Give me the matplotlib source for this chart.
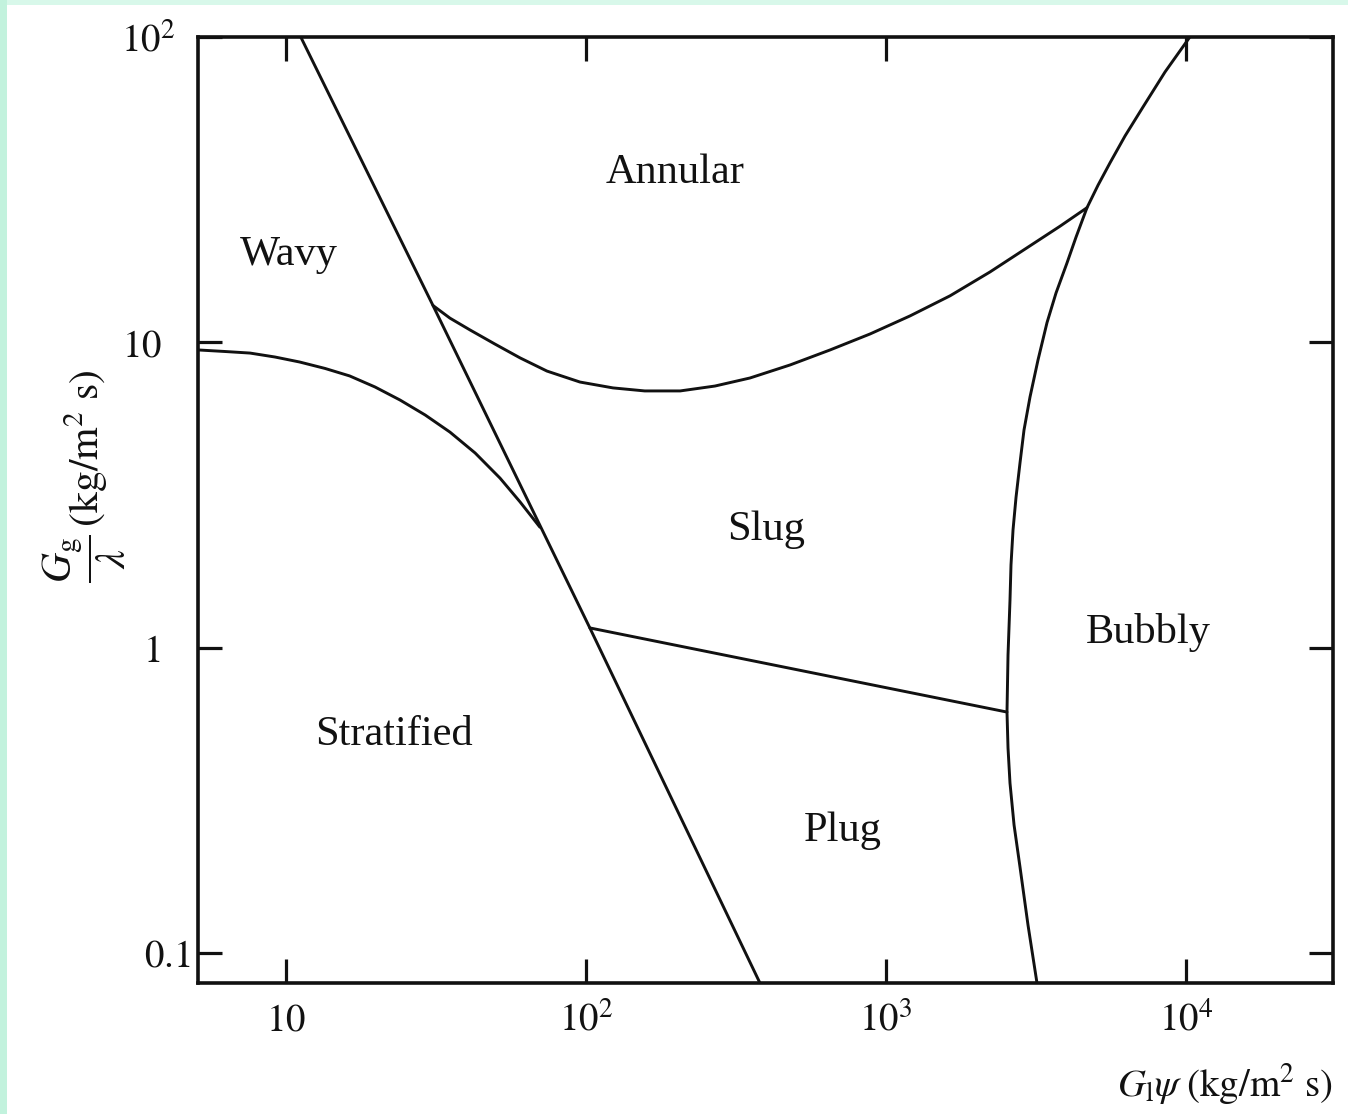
import matplotlib
matplotlib.use('Agg')
import matplotlib.pyplot as plt
from matplotlib.patches import Rectangle
from matplotlib.ticker import NullLocator

# ---------------- data ----------------
# Wavy/Annular | Stratified/Slug/Plug steep boundary
steep_x = [11.2, 30.9, 103, 380]
steep_y = [100, 13.2, 1.16, 0.0797]

# Stratified / Wavy boundary
strat_x = [5.09, 6.26, 7.59, 9.19, 11.1, 13.5, 16.3, 19.8, 24.0, 29.1, 35.2, 42.7, 51.7, 60.3, 70.2]
strat_y = [9.44, 9.33, 9.22, 8.95, 8.62, 8.21, 7.76, 7.14, 6.47, 5.78, 5.08, 4.34, 3.59, 3.00, 2.48]

# Annular / Slug boundary
annular_x = [30.9, 35.2, 41.1, 49.7, 60.3, 74.1, 95.5, 123, 157, 206, 269, 352, 479, 651,
             885, 1202, 1635, 2222, 3020, 3802, 4677]
annular_y = [13.2, 12.0, 10.97, 9.87, 8.89, 8.05, 7.41, 7.09, 6.93, 6.93, 7.19, 7.64, 8.43, 9.44,
             10.65, 12.2, 14.2, 17.0, 20.7, 24.0, 27.6]

# Slug / Plug boundary
plug_x = [103, 2531]
plug_y = [1.16, 0.615]

# Bubbly boundary
bubbly_x = [3186, 2974, 2797, 2672, 2590, 2551, 2531, 2551, 2590, 2610, 2651, 2713, 2797, 2884,
            3020, 3211, 3441, 3687, 4012, 4299, 4677, 5090, 5580, 6262, 7190, 8511, 10300]
bubbly_y = [0.0797, 0.1234, 0.191, 0.2624, 0.36, 0.469, 0.615, 0.946, 1.43, 1.865, 2.43, 3.11,
            4.03, 5.16, 6.62, 8.75, 11.6, 14.5, 18.2, 22.1, 27.6, 32.7, 38.7, 47.4, 59.0, 76.8, 100]

# Region labels
region_names = ['Annular', 'Wavy', 'Slug', 'Bubbly', 'Stratified', 'Plug']
region_x = [198, 10.2, 398, 7470, 22.9, 719]
region_y = [35.9, 19.4, 2.43, 1.12, 0.518, 0.251]

# Ticks
xticks = [10, 100, 1000, 10000]
xticklabels = [r'$10$', r'$10^2$', r'$10^3$', r'$10^4$']
yticks = [100, 10, 1, 0.1]
yticklabels = [r'$10^2$', r'$10$', r'$1$', r'$0.1$']
ytick_pads = [16.5, 26, 27, 5.5]

xlim = (5.09, 30900)
ylim = (0.0797, 100)

# ---------------- figure ----------------
plt.rcParams['font.family'] = ['Liberation Serif', 'DejaVu Serif']
plt.rcParams['mathtext.fontset'] = 'stix'

W, H = 1348, 1114
fig = plt.figure(figsize=(W / 100, H / 100), dpi=100)
fig.patch.set_facecolor('white')
fig.patches.append(Rectangle((0, 1 - 5 / H), 1, 5 / H, transform=fig.transFigure,
                             facecolor='#d8f8ea', edgecolor='none', zorder=-5))
fig.patches.append(Rectangle((0, 0), 7 / W, 1, transform=fig.transFigure,
                             facecolor='#c2f2dd', edgecolor='none', zorder=-5))

ax = fig.add_axes([198 / W, 1 - 983 / H, (1333 - 198) / W, (983 - 37) / H])
ax.set_xscale('log')
ax.set_yscale('log')
ax.set_xlim(*xlim)
ax.set_ylim(*ylim)

lw = 2.1
for xs, ys in [(steep_x, steep_y), (strat_x, strat_y), (annular_x, annular_y),
               (plug_x, plug_y), (bubbly_x, bubbly_y)]:
    ax.plot(xs, ys, color='#111111', lw=lw, solid_capstyle='round',
            solid_joinstyle='round', clip_on=True)

for name, x, y in zip(region_names, region_x, region_y):
    ax.text(x, y, name, ha='center', va='center', fontsize=30.5, color='#111111')

ax.set_xticks(xticks)
ax.set_xticklabels(xticklabels)
ax.set_yticks(yticks)
ax.set_yticklabels(yticklabels)
ax.xaxis.set_minor_locator(NullLocator())
ax.yaxis.set_minor_locator(NullLocator())
ax.tick_params(which='major', direction='in', length=17, width=2.3,
               top=True, right=True, labelsize=28, colors='#111111')
ax.tick_params(axis='x', pad=14)
for t, p in zip(ax.yaxis.get_major_ticks(), ytick_pads):
    t.set_pad(p)

for s in ax.spines.values():
    s.set_linewidth(2.6)
    s.set_color('#111111')

ax.set_ylabel(r'$\dfrac{G_\mathrm{g}}{\lambda}\,(\mathrm{kg/m^2\ s})$', fontsize=30,
              color='#111111')
ax.yaxis.set_label_coords(-0.062, 0.536)
ax.set_xlabel(r'$G_\mathrm{l}\psi\ (\mathrm{kg/m^2\ s})$', fontsize=28, loc='right',
              labelpad=16, color='#111111')

fig.savefig('out.png', dpi=100, facecolor=fig.get_facecolor())
